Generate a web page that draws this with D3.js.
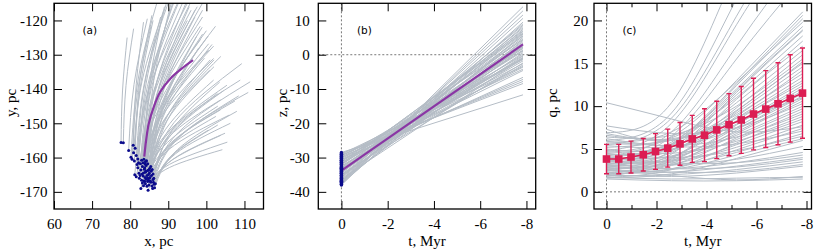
<!DOCTYPE html>
<html><head><meta charset="utf-8">
<script src="https://cdn.jsdelivr.net/npm/d3@7"></script>
<style>body{margin:0;background:#fff}svg{display:block}</style>
</head><body>
<svg id="chart" width="822" height="249"></svg>
<script>
// ---------- Panel (a): x-y trajectories [xStart, yStart, xMid, yMid, xEnd, yEnd] ----------
const xyTracks = [
 [77.6,-155.6,78.0,-140.3,79.2,-125.0],[78.2,-155.7,78.9,-139.0,80.9,-122.4],
 [80.8,-156.4,81.6,-138.5,83.5,-120.5],[81.3,-157.3,82.5,-137.9,85.7,-118.5],
 [79.6,-157.9,81.0,-138.7,84.5,-119.5],[80.9,-158.6,83.1,-137.8,88.8,-117.1],
 [80.2,-159.9,82.2,-136.5,87.5,-113.0],[81.6,-159.4,84.1,-136.2,90.6,-113.0],
 [82.0,-160.4,85.2,-136.2,93.6,-112.0],[81.1,-161.0,82.5,-140.5,86.0,-120.0],
 [83.0,-160.8,86.2,-136.9,94.5,-113.0],[83.4,-161.5,87.0,-137.7,96.2,-114.0],
 [83.9,-161.9,87.7,-138.9,97.6,-116.0],[83.2,-162.6,85.7,-137.3,92.0,-112.0],
 [84.2,-162.3,88.5,-138.2,99.5,-114.0],[83.7,-163.4,87.8,-142.5,98.4,-121.7],
 [84.6,-163.8,88.6,-143.9,99.0,-124.0],[84.0,-164.3,88.6,-145.5,100.6,-126.8],
 [83.1,-164.8,88.4,-146.2,101.9,-127.5],[82.3,-164.6,86.1,-140.8,96.0,-117.0],
 [81.2,-165.0,85.0,-140.0,95.0,-115.0],[81.6,-165.6,86.9,-147.2,100.6,-128.7],
 [82.4,-166.0,87.9,-148.6,101.9,-131.1],[83.4,-165.4,88.3,-150.0,100.9,-134.5],
 [84.4,-165.2,89.4,-143.5,102.4,-121.7],[85.0,-164.6,90.2,-153.9,103.7,-143.2],
 [85.6,-165.2,90.7,-155.7,103.7,-146.1],[85.0,-166.0,90.0,-153.7,102.9,-141.3],
 [84.2,-166.3,89.2,-151.9,101.9,-137.4],[83.6,-166.8,90.7,-152.1,108.9,-137.4],
 [84.6,-167.0,91.5,-149.8,109.3,-132.6],[85.4,-167.2,92.7,-152.6,111.5,-137.9],
 [86.0,-166.4,93.0,-153.7,111.0,-141.0],[86.3,-167.8,91.9,-158.9,106.3,-150.0],
 [85.7,-168.3,91.1,-160.6,104.9,-152.9],[84.9,-168.0,90.3,-162.9,104.2,-157.7],
 [84.0,-167.6,90.2,-157.6,106.0,-147.6],[83.2,-167.4,89.4,-153.2,105.4,-138.9],
 [82.8,-169.0,88.5,-157.0,103.0,-145.0],[85.9,-169.0,90.7,-159.8,103.0,-150.5],
 [86.6,-167.6,90.5,-159.8,100.5,-152.0],[84.8,-166.6,88.4,-145.6,97.5,-124.5],
 [85.2,-165.8,88.8,-146.9,98.0,-128.0],[83.9,-165.8,87.6,-142.4,97.0,-119.0],
 [84.6,-161.8,87.7,-138.9,95.5,-116.0],[84.3,-160.9,86.2,-137.5,91.0,-114.0],
 [83.6,-160.5,85.1,-138.3,89.0,-116.0],[85.5,-164.0,89.8,-147.8,101.0,-131.5],
 [86.2,-166.0,91.0,-152.0,103.5,-138.0],[82.8,-163.6,86.2,-141.8,95.0,-120.0],
 [83.8,-163.0,88.0,-141.0,99.0,-119.0],[84.1,-164.0,88.5,-143.5,100.0,-123.0],
 [84.8,-165.0,89.6,-149.3,102.0,-133.5],[85.3,-166.8,91.5,-155.2,107.5,-143.5],
 [84.4,-168.4,90.3,-162.0,105.5,-155.5],[83.5,-168.2,88.8,-158.1,102.5,-148.0],
 [82.6,-165.2,87.1,-145.4,98.5,-125.5],[82.0,-163.0,85.1,-138.5,93.0,-114.0],
 [81.8,-162.0,83.5,-140.5,88.0,-119.0],[80.5,-160.5,81.9,-141.0,85.5,-121.5],
 [86.0,-164.8,91.2,-152.7,104.5,-140.5],[85.1,-163.2,89.4,-143.9,100.5,-124.5],
 [83.0,-166.6,87.6,-148.8,99.5,-131.0],[84.7,-169.5,90.0,-161.5,103.8,-153.5],
 [86.4,-168.8,92.4,-157.7,108.0,-146.5],[84.0,-161.2,87.1,-137.6,95.0,-114.0],
 [83.5,-164.5,87.3,-140.8,97.0,-117.0],[84.9,-163.6,88.8,-140.3,99.0,-117.0],
 [82.7,-161.8,85.3,-137.4,92.0,-113.0],[85.4,-162.6,89.2,-142.3,98.9,-122.0],
 [84.5,-166.0,89.3,-146.5,101.5,-127.0],[83.8,-167.0,88.9,-149.3,102.0,-131.5],
 [86.1,-167.2,92.4,-154.6,108.5,-142.0],[85.8,-163.5,90.8,-147.0,103.8,-130.5],
 [82.2,-161.5,84.2,-138.3,89.5,-115.0]
];
const xyMain = [[83.7,-159.7],[84.2,-154.8],[84.9,-150.0],[86.2,-145.2],[87.9,-140.8],
                [90.6,-136.9],[93.6,-134.0],[96.5,-131.6]];
const xTicksA = [60,70,80,90,100,110];
const yTicksA = [-170,-160,-150,-140,-130,-120];

// ---------- Panel (b): z(t) tracks [z at t=0, z at end time] ----------
const tEnd = -7.85;
const zTracks = [
 [-38.0,14.0],[-37.8,9.5],[-37.6,12.8],[-37.4,6.0],[-37.2,10.6],[-37.0,4.2],[-36.8,8.2],
 [-36.6,2.0],[-36.4,7.4],[-36.2,-1.0],[-36.0,5.6],[-35.8,9.0],[-35.6,3.0],[-35.4,6.8],
 [-35.2,0.6],[-35.0,5.0],[-34.8,-2.4],[-34.6,7.8],[-34.4,2.6],[-34.2,4.6],[-34.0,-0.4],
 [-33.8,6.2],[-33.6,1.4],[-33.4,3.8],[-33.2,-3.0],[-33.0,5.4],[-32.8,0.2],[-32.6,2.2],
 [-32.4,-1.8],[-32.2,7.0],[-32.0,1.0],[-31.8,-0.8],[-31.6,3.4],[-31.4,-3.6],[-31.2,4.4],
 [-31.0,-1.4],[-30.8,1.8],[-30.6,-6.6],[-30.4,-0.2],[-30.2,-2.6],[-30.0,1.2],[-29.8,-7.2],
 [-29.6,-1.2],[-29.4,-4.2],[-29.2,-7.8],[-29.0,-3.4],[-28.8,-8.4],[-28.5,-11.7],[-36.9,11.6],
 [-34.5,8.6],[-33.1,-0.9],[-35.3,2.4],[-31.9,6.4],[-30.9,-4.6]
];
const zMain = [-33.8, 3.0];
const tTicks = [0,-2,-4,-6,-8];
const zTicks = [-40,-30,-20,-10,0,10];

// ---------- Panel (c): q(t) tracks sampled at qTimes ----------
const qTimes = [0,-2.6,-5.2,-7.85];
const qTracks = [
 [6.9,10.4,26.0,42.0],[6.0,9.2,22.5,36.0],[5.5,8.6,20.5,33.0],[4.8,8.0,19.5,31.0],
 [4.2,7.0,17.0,27.5],[3.5,6.5,15.5,25.0],[4.6,6.4,13.0,21.0],[3.2,5.6,12.6,20.6],
 [2.8,5.4,12.4,20.2],[5.8,7.0,12.8,19.8],[4.0,5.8,12.0,19.3],[2.4,4.8,11.6,18.8],
 [3.6,5.5,11.3,18.2],[5.2,6.3,11.0,17.6],[2.0,4.4,10.8,17.0],[4.3,5.4,10.4,16.5],
 [3.0,4.6,9.8,16.0],[6.4,6.6,10.0,15.5],[1.8,3.9,9.4,15.0],[3.8,4.8,9.2,14.6],
 [5.6,6.0,9.0,14.2],[2.6,4.0,8.8,13.8],[4.4,4.9,8.6,13.4],[3.3,4.1,8.3,13.0],
 [6.6,6.2,8.6,12.7],[2.2,3.6,7.8,12.4],[4.9,5.0,7.9,12.1],[3.1,3.8,7.5,11.8],
 [1.9,3.3,7.2,11.5],[5.4,5.3,7.4,11.2],[3.9,4.2,7.0,10.9],[2.7,3.5,6.8,10.6],
 [7.7,6.8,7.5,10.3],[4.1,4.1,6.6,10.0],[2.3,3.1,6.3,9.7],[3.4,3.7,6.1,9.4],
 [5.9,5.4,6.4,9.1],[1.7,2.6,5.7,8.8],[4.7,4.5,5.9,8.5],[2.9,3.2,5.5,8.2],
 [3.7,3.6,5.2,7.8],[10.4,8.5,7.0,7.6],[2.1,2.7,4.9,7.4],[6.2,5.3,5.6,7.1],
 [3.2,3.1,4.6,6.8],[4.5,4.0,4.8,6.5],[2.5,2.6,4.3,6.2],[1.6,2.1,3.9,6.0],
 [3.6,3.2,3.8,5.3],[2.8,2.7,3.4,4.6],[4.0,3.4,3.4,4.3],[2.2,2.3,3.0,4.0],
 [3.0,2.7,2.9,3.8],[1.9,2.0,2.6,3.5],[2.6,2.3,2.4,3.2],[2.0,1.8,2.2,3.0],
 [2.6,1.9,1.4,1.8],[1.5,1.3,1.3,1.5],[1.7,1.5,1.6,1.7],[7.3,6.0,9.5,15.2],
 [6.8,6.1,8.2,11.0],[5.0,5.6,11.8,18.9]
];
const meanT = [0,-0.49,-0.98,-1.47,-1.96,-2.45,-2.94,-3.43,-3.92,-4.41,-4.9,-5.39,-5.88,-6.37,-6.86,-7.35,-7.84];
const meanQ = [3.83,3.83,4.06,4.33,4.71,5.1,5.6,6.18,6.61,7.23,7.84,8.39,9.08,9.66,10.28,10.9,11.52];
const sdQ   = [1.71,1.71,1.86,1.9,2.09,2.22,2.5,2.74,3.08,3.35,3.62,3.9,4.18,4.48,4.78,5.1,5.27];
const tMinor = [-1,-3,-5,-7];
const qTicks = [0,5,10,15,20];

// ---------- styles ----------
const GRAY = "#b5bdc6", PURPLE = "#8a36a4", NAVY = "#0b0b8c", CRIMSON = "#dc1d53";
const SERIF = "Liberation Serif, Times New Roman, serif";
const FS = "15px";
const TOP = 3.3, BOTTOM = 209;

const svg = d3.select("#chart");

function makePanel(o) {
  const x = d3.scaleLinear().domain(o.xDomain).range([o.left, o.right]);
  const y = d3.scaleLinear().domain(o.yDomain).range([BOTTOM, TOP]);
  const clipId = "clip-" + o.name;
  svg.append("clipPath").attr("id", clipId).append("rect")
    .attr("x", o.left).attr("y", TOP).attr("width", o.right - o.left).attr("height", BOTTOM - TOP);
  const plot = svg.append("g").attr("clip-path", `url(#${clipId})`);
  return {x, y, plot, o};
}

function finishPanel(p) {
  const {x, y, o} = p;
  const g = svg.append("g");
  const styleAxis = sel => {
    sel.select(".domain").remove();
    sel.selectAll(".tick line").attr("stroke", "#000").attr("stroke-width", 1);
    sel.selectAll("text").attr("font-family", SERIF).attr("font-size", FS).attr("fill", "#000");
  };
  g.append("g").attr("transform", `translate(0,${BOTTOM})`)
    .call(d3.axisBottom(x).tickValues(o.xTicks).tickSize(-8).tickPadding(9.5).tickFormat(d => String(d))).call(styleAxis);
  g.append("g").attr("transform", `translate(0,${TOP})`)
    .call(d3.axisTop(x).tickValues(o.xTicks).tickSize(-8).tickFormat("")).call(styleAxis);
  g.append("g").attr("transform", `translate(${o.left},0)`)
    .call(d3.axisLeft(y).tickValues(o.yTicks).tickSize(-8).tickPadding(o.yPad).tickFormat(d => String(d))).call(styleAxis);
  g.append("g").attr("transform", `translate(${o.right},0)`)
    .call(d3.axisRight(y).tickValues(o.yTicks).tickSize(-8).tickFormat("")).call(styleAxis);
  if (o.xMinor) {
    g.append("g").attr("transform", `translate(0,${BOTTOM})`)
      .call(d3.axisBottom(x).tickValues(o.xMinor).tickSize(-4).tickFormat("")).call(styleAxis);
    g.append("g").attr("transform", `translate(0,${TOP})`)
      .call(d3.axisTop(x).tickValues(o.xMinor).tickSize(-4).tickFormat("")).call(styleAxis);
  }
  g.append("rect").attr("x", o.left).attr("y", TOP).attr("width", o.right - o.left).attr("height", BOTTOM - TOP)
    .attr("fill", "none").attr("stroke", "#000").attr("stroke-width", 1.3);
  g.append("text").attr("x", (o.left + o.right) / 2).attr("y", 246).attr("text-anchor", "middle")
    .attr("font-family", SERIF).attr("font-size", FS).text(o.xLabel);
  g.append("text").attr("transform", `translate(${o.yLabelX},103) rotate(-90)`).attr("text-anchor", "middle")
    .attr("dominant-baseline", "central")
    .attr("font-family", SERIF).attr("font-size", FS).text(o.yLabel);
  g.append("text").attr("x", o.tagX).attr("y", 33.5).attr("font-family", "DejaVu Sans, sans-serif")
    .attr("font-size", "10.5px").text(o.tag);
}

function dashed(p, x1, y1, x2, y2) {
  p.plot.append("line").attr("x1", x1).attr("y1", y1).attr("x2", x2).attr("y2", y2)
    .attr("stroke", "#555").attr("stroke-width", 0.8).attr("stroke-dasharray", "2,2");
}

// ===== Panel (a) =====
const pa = makePanel({name: "a", left: 54, right: 263.5, xDomain: [60, 115], yDomain: [-175, -115],
  xTicks: xTicksA, yTicks: yTicksA, yPad: 6.5, xLabel: "x, pc", yLabel: "y, pc", yLabelX: 11, tag: "(a)", tagX: 82.5});
const lineA = d3.line().x(d => pa.x(d[0])).y(d => pa.y(d[1])).curve(d3.curveNatural);
pa.plot.selectAll("path.ga").data(xyTracks).join("path").attr("class", "ga")
  .attr("d", d => lineA([[d[0], d[1]], [d[2], d[3]], [d[4], d[5]]]))
  .attr("fill", "none").attr("stroke", GRAY).attr("stroke-width", 1);
pa.plot.append("path").attr("d", d3.line().x(d => pa.x(d[0])).y(d => pa.y(d[1])).curve(d3.curveCatmullRom)(xyMain))
  .attr("fill", "none").attr("stroke", PURPLE).attr("stroke-width", 2.2);
pa.plot.selectAll("circle.pa").data(xyTracks).join("circle").attr("class", "pa")
  .attr("cx", d => pa.x(d[0])).attr("cy", d => pa.y(d[1])).attr("r", 1.5).attr("fill", NAVY);
finishPanel(pa);

// ===== Panel (b) =====
const pb = makePanel({name: "b", left: 318.3, right: 535.7, xDomain: [1, -8.4], yDomain: [-45, 15],
  xTicks: tTicks, yTicks: zTicks, yPad: 8.5, xLabel: "t, Myr", yLabel: "z, pc", yLabelX: 282, tag: "(b)", tagX: 357});
dashed(pb, pb.x(0), TOP, pb.x(0), BOTTOM);
dashed(pb, pb.o.left, pb.y(0), pb.o.right, pb.y(0));
const lineB = d3.line().x(d => pb.x(d[0])).y(d => pb.y(d[1]));
pb.plot.selectAll("path.gb").data(zTracks).join("path").attr("class", "gb")
  .attr("d", d => lineB([[0, d[0]], [tEnd, d[1]]]))
  .attr("fill", "none").attr("stroke", GRAY).attr("stroke-width", 1);
pb.plot.append("path").attr("d", lineB([[0, zMain[0]], [tEnd, zMain[1]]]))
  .attr("fill", "none").attr("stroke", PURPLE).attr("stroke-width", 2.2);
pb.plot.selectAll("circle.pb").data(zTracks).join("circle").attr("class", "pb")
  .attr("cx", pb.x(0)).attr("cy", d => pb.y(d[0])).attr("r", 1.7).attr("fill", NAVY);
finishPanel(pb);

// ===== Panel (c) =====
const pc = makePanel({name: "c", left: 594, right: 811.5, xDomain: [0.5, -8.2], yDomain: [-2, 22],
  xTicks: tTicks, yTicks: qTicks, yPad: 5.7, xMinor: tMinor, xLabel: "t, Myr", yLabel: "q, pc", yLabelX: 552, tag: "(c)", tagX: 622.5});
dashed(pc, pc.x(0), TOP, pc.x(0), BOTTOM);
dashed(pc, pc.o.left, pc.y(0), pc.o.right, pc.y(0));
const lineC = d3.line().x(d => pc.x(d[0])).y(d => pc.y(d[1])).curve(d3.curveNatural);
pc.plot.selectAll("path.gc").data(qTracks).join("path").attr("class", "gc")
  .attr("d", d => lineC(d.map((v, i) => [qTimes[i], v])))
  .attr("fill", "none").attr("stroke", GRAY).attr("stroke-width", 1);
const meanData = meanT.map((t, i) => ({t, q: meanQ[i], s: sdQ[i]}));
const eb = pc.plot.append("g").attr("stroke", CRIMSON).attr("stroke-width", 1.4);
eb.selectAll("line.v").data(meanData).join("line").attr("class", "v")
  .attr("x1", d => pc.x(d.t)).attr("x2", d => pc.x(d.t)).attr("y1", d => pc.y(d.q - d.s)).attr("y2", d => pc.y(d.q + d.s));
eb.selectAll("line.t").data(meanData).join("line").attr("class", "t")
  .attr("x1", d => pc.x(d.t) - 2.5).attr("x2", d => pc.x(d.t) + 2.5).attr("y1", d => pc.y(d.q + d.s)).attr("y2", d => pc.y(d.q + d.s));
eb.selectAll("line.b").data(meanData).join("line").attr("class", "b")
  .attr("x1", d => pc.x(d.t) - 2.5).attr("x2", d => pc.x(d.t) + 2.5).attr("y1", d => pc.y(d.q - d.s)).attr("y2", d => pc.y(d.q - d.s));
pc.plot.append("path").attr("d", d3.line().x(d => pc.x(d.t)).y(d => pc.y(d.q))(meanData))
  .attr("fill", "none").attr("stroke", CRIMSON).attr("stroke-width", 1.6);
pc.plot.selectAll("rect.m").data(meanData).join("rect").attr("class", "m")
  .attr("x", d => pc.x(d.t) - 3.8).attr("y", d => pc.y(d.q) - 3.8).attr("width", 7.6).attr("height", 7.6)
  .attr("fill", CRIMSON);
finishPanel(pc);
</script>
</body></html>
